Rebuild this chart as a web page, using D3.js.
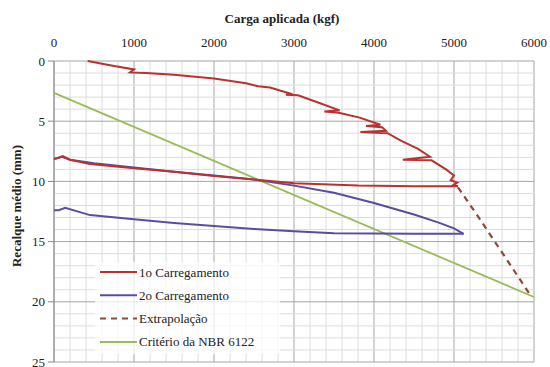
<!DOCTYPE html>
<html><head><meta charset="utf-8">
<script src="https://cdn.jsdelivr.net/npm/d3@7"></script>
</head><body style="margin:0"><svg id="c" width="550" height="367" style="display:block;background:#fff"></svg>
<script>
// Data: [load kgf, settlement mm]
const carga1 = [[420,0],[700,0.35],[1000,0.7],[950,0.95],[1150,1.0],[1500,1.15],[2000,1.45],[2400,1.85],[2550,2.1],[2700,2.2],[2950,2.7],[2900,2.8],[3050,2.85],[3300,3.45],[3570,4.1],[3380,4.2],[3560,4.3],[3820,4.7],[4080,5.3],[3900,5.4],[4100,5.5],[4150,5.8],[3830,5.9],[4170,6.0],[4330,6.6],[4550,7.3],[4700,7.95],[4360,8.2],[4720,8.25],[4900,9.0],[5000,9.5],[4960,9.9],[5040,10.1],[4990,10.3],[5050,10.4]];
const descarga1 = [[5050,10.4],[4500,10.4],[3800,10.35],[3000,10.15],[2500,9.85],[2000,9.55],[1500,9.2],[1000,8.9],[450,8.55],[200,8.2],[110,7.9],[30,8.1],[0,8.1]];
const carga2 = [[0,8.15],[100,7.95],[200,8.2],[500,8.5],[1000,8.85],[1500,9.2],[2000,9.5],[2500,9.85],[3000,10.35],[3500,10.95],[4000,11.8],[4500,12.75],[4800,13.4],[5000,13.9],[5120,14.35]];
const descarga2 = [[5120,14.35],[4500,14.35],[3500,14.3],[3000,14.15],[2500,13.95],[2000,13.7],[1500,13.45],[1000,13.15],[450,12.8],[140,12.2],[60,12.4],[0,12.4]];
const extrapolacao = [[5050,10.5],[5300,12.9],[5600,15.9],[5950,19.4]];
const criterio = [[0,2.65],[6000,19.6]];
const xTicks = [0,1000,2000,3000,4000,5000,6000];
const yTicks = [0,5,10,15,20,25];
const legendLabels = ["1o Carregamento","2o Carregamento","Extrapolação","Critério da NBR 6122"];

const svg = d3.select("#c");
const x = d3.scaleLinear().domain([0,6000]).range([54,534]);
const y = d3.scaleLinear().domain([0,25]).range([61,362]);
function txt(sel){
  return sel.attr("font-family","Times New Roman").attr("font-size",13)
    .style("font-family","'Times New Roman'").style("font-size","13px").attr("fill","#222");
}

// grid
const g = svg.append("g");
d3.range(0,6001,200).forEach(v=>{
  const major = v%1000===0;
  g.append("line").attr("x1",x(v)).attr("x2",x(v)).attr("y1",y(0)).attr("y2",y(25))
   .attr("stroke",major?"#a6a6a6":"#dcdcdc").attr("stroke-width",1);
});
d3.range(0,25.01,1).forEach(v=>{
  const major = v%5===0;
  g.append("line").attr("x1",x(0)).attr("x2",x(6000)).attr("y1",y(v)).attr("y2",y(v))
   .attr("stroke",major?"#a6a6a6":"#dcdcdc").attr("stroke-width",1);
});
// left axis
svg.append("line").attr("x1",x(0)).attr("x2",x(0)).attr("y1",y(0)).attr("y2",y(25)).attr("stroke","#888");
yTicks.forEach(v=>{
  svg.append("line").attr("x1",x(0)-6).attr("x2",x(0)).attr("y1",y(v)).attr("y2",y(v)).attr("stroke","#888");
  txt(svg.append("text").attr("x",x(0)-9).attr("y",y(v)+4.5).attr("text-anchor","end")).text(v);
});
xTicks.forEach(v=>{
  txt(svg.append("text").attr("x",x(v)).attr("y",47).attr("text-anchor","middle")).text(v);
});
txt(svg.append("text").attr("x",282).attr("y",23).attr("text-anchor","middle"))
 .style("font-weight","bold").text("Carga aplicada  (kgf)");
txt(svg.append("text").attr("transform","translate(21,206) rotate(-90)").attr("text-anchor","middle"))
 .style("font-weight","bold").text("Recalque médio  (mm)");

const line = d3.line().x(d=>x(d[0])).y(d=>y(d[1]));
const red="#b8322f", blue="#5c4c9e", green="#9bbb59", brown="#8a4a3a";
const plot = svg.append("g");
plot.append("path").datum(criterio).attr("d",line).attr("fill","none").attr("stroke",green).attr("stroke-width",1.8);
plot.append("path").datum(carga2).attr("d",line).attr("fill","none").attr("stroke",blue).attr("stroke-width",2);
plot.append("path").datum(descarga2).attr("d",line).attr("fill","none").attr("stroke",blue).attr("stroke-width",2);
plot.append("path").datum(descarga1).attr("d",line).attr("fill","none").attr("stroke",red).attr("stroke-width",2);
plot.append("path").datum(carga1).attr("d",line).attr("fill","none").attr("stroke",red).attr("stroke-width",2);
plot.append("path").datum(extrapolacao).attr("d",line).attr("fill","none").attr("stroke",brown).attr("stroke-width",2.2).attr("stroke-dasharray","6,5");

// legend
const lg = svg.append("g");
lg.append("rect").attr("x",95).attr("y",262).attr("width",185).attr("height",92).attr("fill","#fff").attr("opacity",0.75);
const styles=[{c:red,d:null},{c:blue,d:null},{c:brown,d:"6,5"},{c:green,d:null}];
legendLabels.forEach((t,i)=>{
  const yy = 272 + i*23.3;
  lg.append("line").attr("x1",100).attr("x2",137).attr("y1",yy).attr("y2",yy)
   .attr("stroke",styles[i].c).attr("stroke-width",2).attr("stroke-dasharray",styles[i].d);
  txt(lg.append("text").attr("x",139).attr("y",yy+4.5)).text(t);
});
</script></body></html>
